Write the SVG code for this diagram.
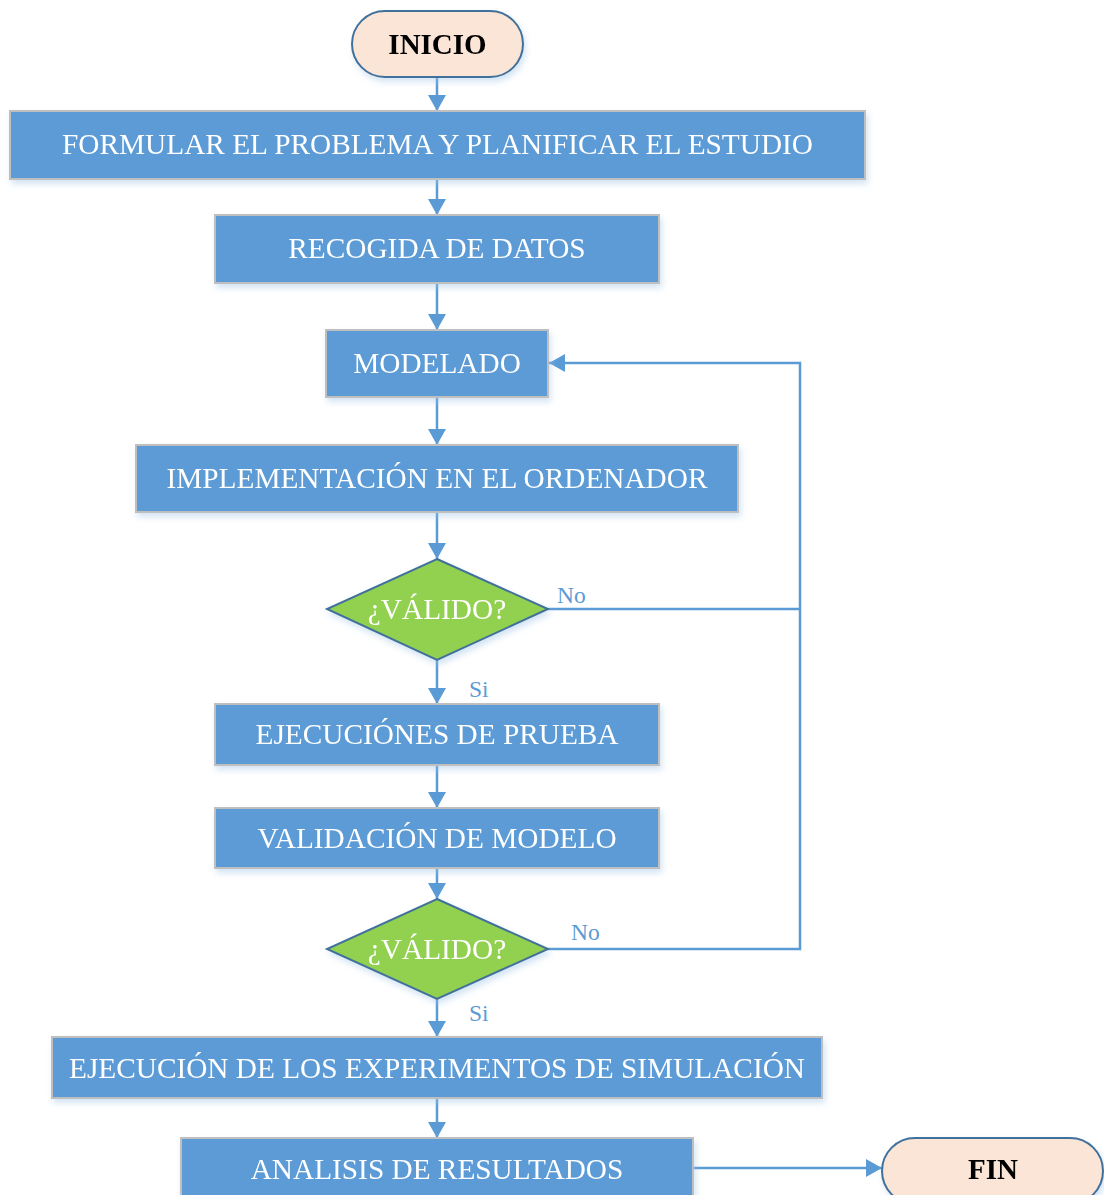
<svg xmlns="http://www.w3.org/2000/svg" width="1104" height="1195" viewBox="0 0 1104 1195">
<defs>
<marker id="ah" markerUnits="userSpaceOnUse" markerWidth="16" markerHeight="18" viewBox="0 0 16 18" refX="16" refY="9" orient="auto">
<path d="M0,0 L16,9 L0,18 Z" fill="#5B9BD5"/>
</marker>
<filter id="sh" x="-10%" y="-20%" width="120%" height="150%">
<feGaussianBlur in="SourceAlpha" stdDeviation="3"/>
<feOffset dx="2" dy="4" result="b"/>
<feFlood flood-color="#9DC3E6" flood-opacity="0.45"/>
<feComposite in2="b" operator="in"/>
<feMerge><feMergeNode/><feMergeNode in="SourceGraphic"/></feMerge>
</filter>
</defs>
<style>
.box{fill:#5B9BD5;stroke:#BFBFBF;stroke-width:2}
.term{fill:#FBE5D6;stroke:#41719C;stroke-width:2}
.dia{fill:#92D050;stroke:#41719C;stroke-width:2}
.t{font-family:"Liberation Serif","Times New Roman",serif;font-size:29.3px;fill:#FFFFFF;text-anchor:middle}
.tb{font-family:"Liberation Serif","Times New Roman",serif;font-size:29px;font-weight:bold;fill:#000000;text-anchor:middle}
.lbl{font-family:"Liberation Serif","Times New Roman",serif;font-size:23.5px;fill:#5B9BD5}
.c{fill:none;stroke:#5B9BD5;stroke-width:2.5}
</style>
<g id="connectors">
<line class="c" x1="437" y1="77" x2="437" y2="111" marker-end="url(#ah)"/>
<line class="c" x1="437" y1="179" x2="437" y2="215" marker-end="url(#ah)"/>
<line class="c" x1="437" y1="283" x2="437" y2="330" marker-end="url(#ah)"/>
<line class="c" x1="437" y1="397" x2="437" y2="445" marker-end="url(#ah)"/>
<line class="c" x1="437" y1="512" x2="437" y2="559" marker-end="url(#ah)"/>
<line class="c" x1="437" y1="660" x2="437" y2="704" marker-end="url(#ah)"/>
<line class="c" x1="437" y1="765" x2="437" y2="808" marker-end="url(#ah)"/>
<line class="c" x1="437" y1="868" x2="437" y2="899" marker-end="url(#ah)"/>
<line class="c" x1="437" y1="999" x2="437" y2="1037" marker-end="url(#ah)"/>
<line class="c" x1="437" y1="1098" x2="437" y2="1138" marker-end="url(#ah)"/>
<line class="c" x1="693" y1="1168" x2="882" y2="1168" marker-end="url(#ah)"/>
<polyline class="c" points="548,609 800,609"/>
<polyline class="c" points="548,949 800,949 800,363 549,363" marker-end="url(#ah)"/>
<text class="lbl" x="557" y="603">No</text>
<text class="lbl" x="571" y="940">No</text>
<text class="lbl" x="469" y="697">Si</text>
<text class="lbl" x="469" y="1021">Si</text>
</g>
<g id="inicio" filter="url(#sh)">
<rect class="term" x="352" y="11" width="171" height="66" rx="33" ry="33"/>
<text class="tb" x="437.5" y="54">INICIO</text>
</g>
<g id="formular" filter="url(#sh)">
<rect class="box" x="10" y="111" width="855" height="68"/>
<text class="t" x="437.5" y="154">FORMULAR EL PROBLEMA Y PLANIFICAR EL ESTUDIO</text>
</g>
<g id="recogida" filter="url(#sh)">
<rect class="box" x="215" y="215" width="444" height="68"/>
<text class="t" x="437" y="258">RECOGIDA DE DATOS</text>
</g>
<g id="modelado" filter="url(#sh)">
<rect class="box" x="326" y="330" width="222" height="67"/>
<text class="t" x="437" y="373">MODELADO</text>
</g>
<g id="implementacion" filter="url(#sh)">
<rect class="box" x="136" y="445" width="602" height="67"/>
<text class="t" x="437" y="488">IMPLEMENTACIÓN EN EL ORDENADOR</text>
</g>
<g id="valido1" filter="url(#sh)">
<polygon class="dia" points="437,559 548,609 437,660 327,609"/>
<text class="t" x="437" y="619">¿VÁLIDO?</text>
</g>
<g id="ejecuciones" filter="url(#sh)">
<rect class="box" x="215" y="704" width="444" height="61"/>
<text class="t" x="437" y="744">EJECUCIÓNES DE PRUEBA</text>
</g>
<g id="validacion" filter="url(#sh)">
<rect class="box" x="215" y="808" width="444" height="60"/>
<text class="t" x="437" y="848">VALIDACIÓN DE MODELO</text>
</g>
<g id="valido2" filter="url(#sh)">
<polygon class="dia" points="437,899 548,949 437,999 327,949"/>
<text class="t" x="437" y="959">¿VÁLIDO?</text>
</g>
<g id="experimentos" filter="url(#sh)">
<rect class="box" x="52" y="1037" width="770" height="61"/>
<text class="t" x="437" y="1078">EJECUCIÓN DE LOS EXPERIMENTOS DE SIMULACIÓN</text>
</g>
<g id="analisis" filter="url(#sh)">
<rect class="box" x="181" y="1138" width="512" height="66"/>
<text class="t" x="437" y="1179">ANALISIS DE RESULTADOS</text>
</g>
<g id="fin" filter="url(#sh)">
<rect class="term" x="882" y="1138" width="221" height="66" rx="33" ry="33"/>
<text class="tb" x="993" y="1179">FIN</text>
</g>
</svg>
